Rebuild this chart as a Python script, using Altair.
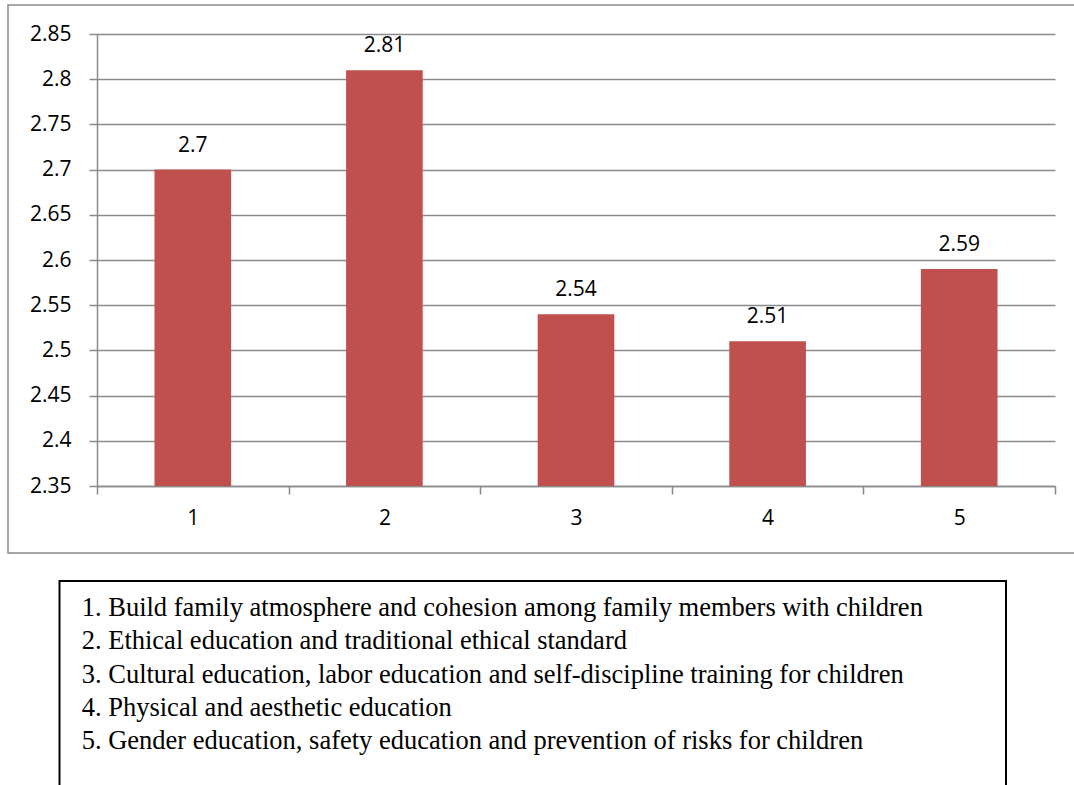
import altair as alt
import pandas as pd

categories = ["1", "2", "3", "4", "5"]
values = [2.7, 2.81, 2.54, 2.51, 2.59]
y_min, y_max = 2.35, 2.85
y_ticks = [2.35, 2.4, 2.45, 2.5, 2.55, 2.6, 2.65, 2.7, 2.75, 2.8, 2.85]
legend_lines = [
    "1. Build family atmosphere and cohesion among family members with children",
    "2. Ethical education and traditional ethical standard",
    "3. Cultural education, labor education and self-discipline training for children",
    "4. Physical and aesthetic education",
    "5. Gender education, safety education and prevention of risks for children",
]

df = pd.DataFrame({"cat": categories, "val": values, "base": [y_min] * len(values)})
one = pd.DataFrame({"t": ["\n".join(legend_lines)]})

GRAY = "#8a8a8a"
AXFONT = "Open Sans"
FS = 21

x_scale = alt.Scale(paddingInner=0, paddingOuter=0)
x_enc = alt.X(
    "cat:N",
    sort=categories,
    scale=x_scale,
    axis=alt.Axis(
        title=None, labelAngle=0, tickBand="extent", tickSize=8, tickColor=GRAY,
        tickWidth=1.5, domainColor=GRAY, domainWidth=1.5, grid=False,
        labelFont=AXFONT, labelFontSize=FS, labelColor="black", labelPadding=13,
    ),
)
y_scale = alt.Scale(domain=[y_min, y_max], zero=False, nice=False)
y_enc = alt.Y(
    "val:Q",
    scale=y_scale,
    axis=alt.Axis(
        title=None, values=y_ticks, format=".2~f", tickSize=8, tickColor=GRAY,
        tickWidth=1.5, domainColor=GRAY, domainWidth=1.5, grid=True,
        gridColor=GRAY, gridWidth=1.5, labelFont=AXFONT, labelFontSize=FS,
        labelColor="black", labelPadding=18,
    ),
)

frame = alt.Chart(one).mark_rect(fill=None, stroke=GRAY, strokeWidth=1.5).encode(
    x=alt.value(-89), x2=alt.value(990), y=alt.value(-29), y2=alt.value(519)
)

bars = alt.Chart(df).mark_bar(color="#C0504D", width=alt.RelativeBandSize(0.4)).encode(
    x=x_enc, y=y_enc, y2="base:Q"
)

labels = alt.Chart(df).mark_text(
    font=AXFONT, fontSize=FS, color="black", baseline="alphabetic", dy=-18
).encode(
    x=alt.X("cat:N", sort=categories, scale=x_scale),
    y=alt.Y("val:Q", scale=y_scale),
    text=alt.Text("val:Q", format=".2~f"),
)

legend_box = alt.Chart(one).mark_rect(fill=None, stroke="black", strokeWidth=2).encode(
    x=alt.value(-37.5), x2=alt.value(909), y=alt.value(547), y2=alt.value(820)
)

legend_text = alt.Chart(one).mark_text(
    font="Liberation Serif", fontSize=26.5, color="black", align="left",
    baseline="alphabetic", lineBreak="\n", lineHeight=33.3,
).encode(x=alt.value(-15.3), y=alt.value(582), text="t:N")

chart = alt.layer(frame, bars, labels, legend_box, legend_text).properties(
    width=958, height=452,
    padding={"left": 97, "top": 34, "right": 19, "bottom": 299},
    autosize=alt.AutoSizeParams(type="none"),
    background="white",
).configure_view(stroke=None)

chart.save("out.html", embed_options={"renderer": "svg", "actions": False})
